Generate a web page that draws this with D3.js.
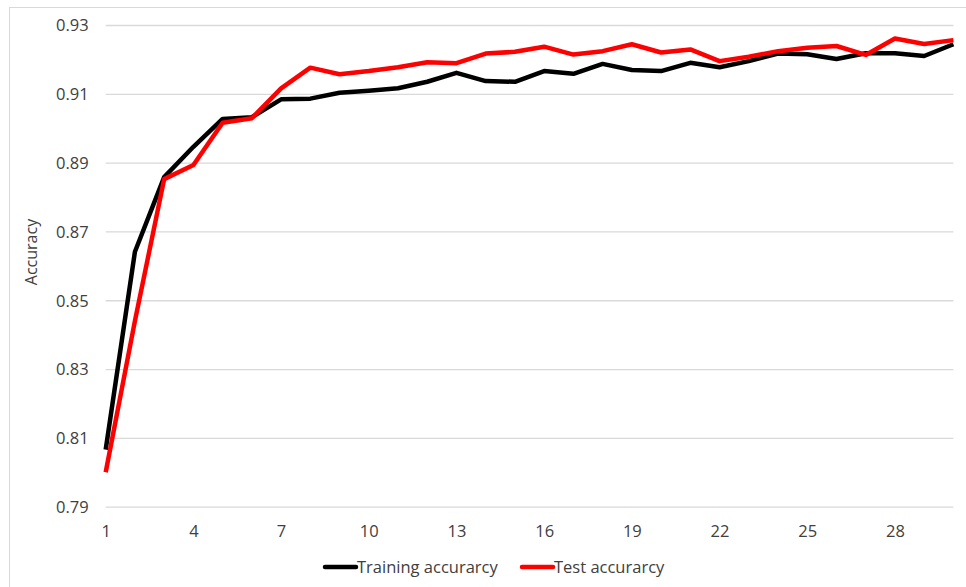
<!DOCTYPE html>
<html>
<head>
<meta charset="utf-8">
<script src="https://cdn.jsdelivr.net/npm/d3@7"></script>
<style>
  html, body { margin: 0; padding: 0; background: #fff; }
  svg { display: block; }
  text { font-family: "Open Sans", "Noto Sans", sans-serif; }
</style>
</head>
<body>
<svg id="chart" width="966" height="587"></svg>
<script>
const epochs = d3.range(1, 31);
const trainingAccuracy = [
  0.8066, 0.8641, 0.8858, 0.8946, 0.9027, 0.9032, 0.9084, 0.9086, 0.9103, 0.9109,
  0.9116, 0.9135, 0.9161, 0.9137, 0.9135, 0.9166, 0.9158, 0.9187, 0.9169, 0.9166,
  0.9190, 0.9177, 0.9195, 0.9217, 0.9215, 0.9201, 0.9218, 0.9218, 0.9210, 0.9244
];
const testAccuracy = [
  0.8000, 0.8440, 0.8852, 0.8893, 0.9016, 0.9029, 0.9116, 0.9176, 0.9157, 0.9166,
  0.9177, 0.9192, 0.9189, 0.9217, 0.9222, 0.9237, 0.9214, 0.9224, 0.9244, 0.9220,
  0.9229, 0.9195, 0.9208, 0.9224, 0.9234, 0.9239, 0.9213, 0.9261, 0.9245, 0.9256
];
const yTicks = [0.79, 0.81, 0.83, 0.85, 0.87, 0.89, 0.91, 0.93];
const xTicks = [1, 4, 7, 10, 13, 16, 19, 22, 25, 28];
const seriesNames = ["Training accurarcy", "Test accurarcy"];
const seriesColors = ["#000000", "#ff0000"];
const yTitle = "Accuracy";

const svg = d3.select("#chart");

// outer chart frame
svg.append("rect")
  .attr("x", 9.5).attr("y", 7.5)
  .attr("width", 970).attr("height", 600)
  .attr("fill", "none").attr("stroke", "#d9d9d9").attr("stroke-width", 1);

const x = d3.scaleLinear().domain([1, 30]).range([105.7, 953.4]);
const y = d3.scaleLinear().domain([0.79, 0.93]).range([506.7, 25]);

// gridlines
const yAxis = d3.axisLeft(y).tickValues(yTicks).tickSize(-(953.4 - 105.7))
  .tickFormat(d3.format(".2f")).tickPadding(17);
const gy = svg.append("g").attr("transform", "translate(105.7,0)").call(yAxis);
gy.select(".domain").remove();
gy.selectAll(".tick line").attr("stroke", "#d9d9d9").attr("stroke-width", 1.3);
gy.selectAll(".tick text").attr("fill", "#404040").attr("font-size", 16.5)
  .attr("dy", "0.35em");

const xAxis = d3.axisBottom(x).tickValues(xTicks).tickSize(0).tickPadding(19)
  .tickFormat(d3.format("d"));
const gx = svg.append("g").attr("transform", "translate(0,506.7)").call(xAxis);
gx.select(".domain").remove();
gx.selectAll(".tick text").attr("fill", "#404040").attr("font-size", 16.5);

// y title
svg.append("text")
  .attr("transform", "translate(31,252) rotate(-90)")
  .attr("text-anchor", "middle")
  .attr("dy", "0.35em")
  .attr("fill", "#404040").attr("font-size", 16)
  .text(yTitle);

const line = d3.line().x((d, i) => x(epochs[i])).y(d => y(d));
[trainingAccuracy, testAccuracy].forEach((s, k) => {
  svg.append("path").datum(s)
    .attr("d", line)
    .attr("fill", "none")
    .attr("stroke", seriesColors[k])
    .attr("stroke-width", 4.5)
    .attr("stroke-linejoin", "round")
    .attr("stroke-linecap", "butt");
});

// legend
const legendX = [325, 522];
seriesNames.forEach((name, k) => {
  const g = svg.append("g").attr("transform", `translate(${legendX[k]},567)`);
  g.append("line").attr("x1", 0).attr("x2", 31).attr("y1", 0).attr("y2", 0)
    .attr("stroke", seriesColors[k]).attr("stroke-width", 4.5).attr("stroke-linecap", "round");
  g.append("text").attr("x", 32).attr("y", 0).attr("dy", "0.35em")
    .attr("fill", "#404040").attr("font-size", 16.5).text(name);
});
</script>
</body>
</html>
